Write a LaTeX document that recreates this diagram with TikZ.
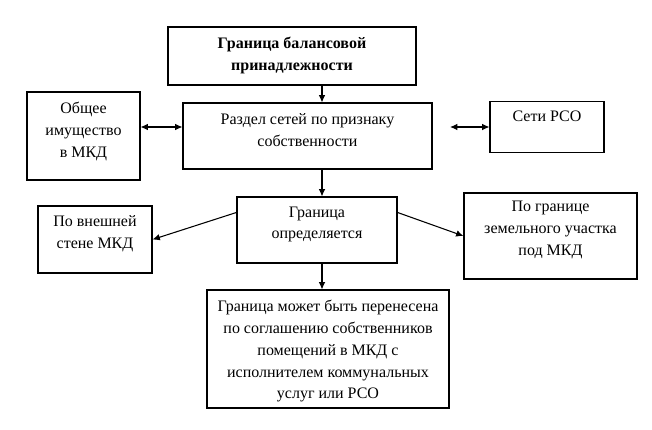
\documentclass[tikz,border=0pt]{standalone}
\usepackage{fontspec}
\setmainfont{Liberation Serif}
\usetikzlibrary{positioning,calc,arrows.meta}

\tikzset{
  box/.style={draw, line width=0.8pt, inner sep=0pt},
  txt/.style={align=center, inner sep=0pt, font=\fontsize{12}{16.3}\selectfont},
  txtb/.style={txt, font=\fontsize{12}{16.3}\selectfont\bfseries},
  arr/.style={line width=0.8pt, -{Latex[length=5.5pt,width=5pt]}},
  dbl/.style={line width=0.8pt, {Latex[length=5.5pt,width=5pt]}-{Latex[length=5.5pt,width=5pt]}}
}

\begin{document}
\begin{tikzpicture}[x=0.75pt,y=-0.75pt]
\useasboundingbox (0,0) rectangle (652,429);
\coordinate (axis) at (322,0);
\coordinate (lvl) at (0,127);
\coordinate (setiL) at (450,127);
% boxes
\node[box, minimum width=186pt, minimum height=43.5pt] (gran) at (292,56) {};
\node[box, minimum width=186.75pt, minimum height=49.5pt] (razdel) at (307.5,136) {};
\node[box, minimum width=84.75pt, minimum height=66pt] (obsh) at (83.5,136) {};
\node[box, minimum width=85.5pt, minimum height=38.25pt] (seti) at (547,127) {};
\node[box, minimum width=120pt, minimum height=49.5pt] (opr) at (317,230) {};
\node[box, minimum width=85.5pt, minimum height=50.25pt] (vnesh) at (95,239.5) {};
\node[box, minimum width=129.75pt, minimum height=64.5pt] (zem) at (550.5,236) {};
\node[box, minimum width=181.5pt, minimum height=88.5pt] (itog) at (328,349) {};
% texts
\node[txtb, below=8pt of gran.north] (granT) {Граница балансовой\\принадлежности};
\node[txt, below=8pt of razdel.north] (razdelT) {Раздел сетей по признаку\\собственности};
\node[txt, below=8pt of obsh.north] (obshT) {Общее\\имущество\\в МКД};
\node[txt, below=7pt of seti.north] (setiT) {Сети РСО};
\node[txt, below=7.5pt of opr.north] (oprT) {Граница\\определяется};
\node[txt, below=7.5pt of vnesh.north] (vneshT) {По внешней\\стене МКД};
\node[txt, below=6.5pt of zem.north] (zemT) {По границе\\земельного участка\\под МКД};
\node[txt, below=8pt of itog.north] (itogT) {Граница может быть перенесена\\по соглашению собственников\\помещений в МКД с\\исполнителем коммунальных\\услуг или РСО};
% arrows
\draw[arr] (gran.south -| axis) -- (razdel.north -| axis);
\draw[arr] (razdel.south -| axis) -- (opr.north -| axis);
\draw[arr] (opr.south -| axis) -- (itog.north -| axis);
\draw[dbl] (obsh.east |- lvl) -- (razdel.west |- lvl);
\draw[dbl] (setiL) -- (seti.west);
\draw[arr] ($(opr.north west)+(0,16)$) -- (vnesh.east);
\draw[arr] ($(opr.north east)+(0,16)$) -- (zem.west);
\end{tikzpicture}
\end{document}
